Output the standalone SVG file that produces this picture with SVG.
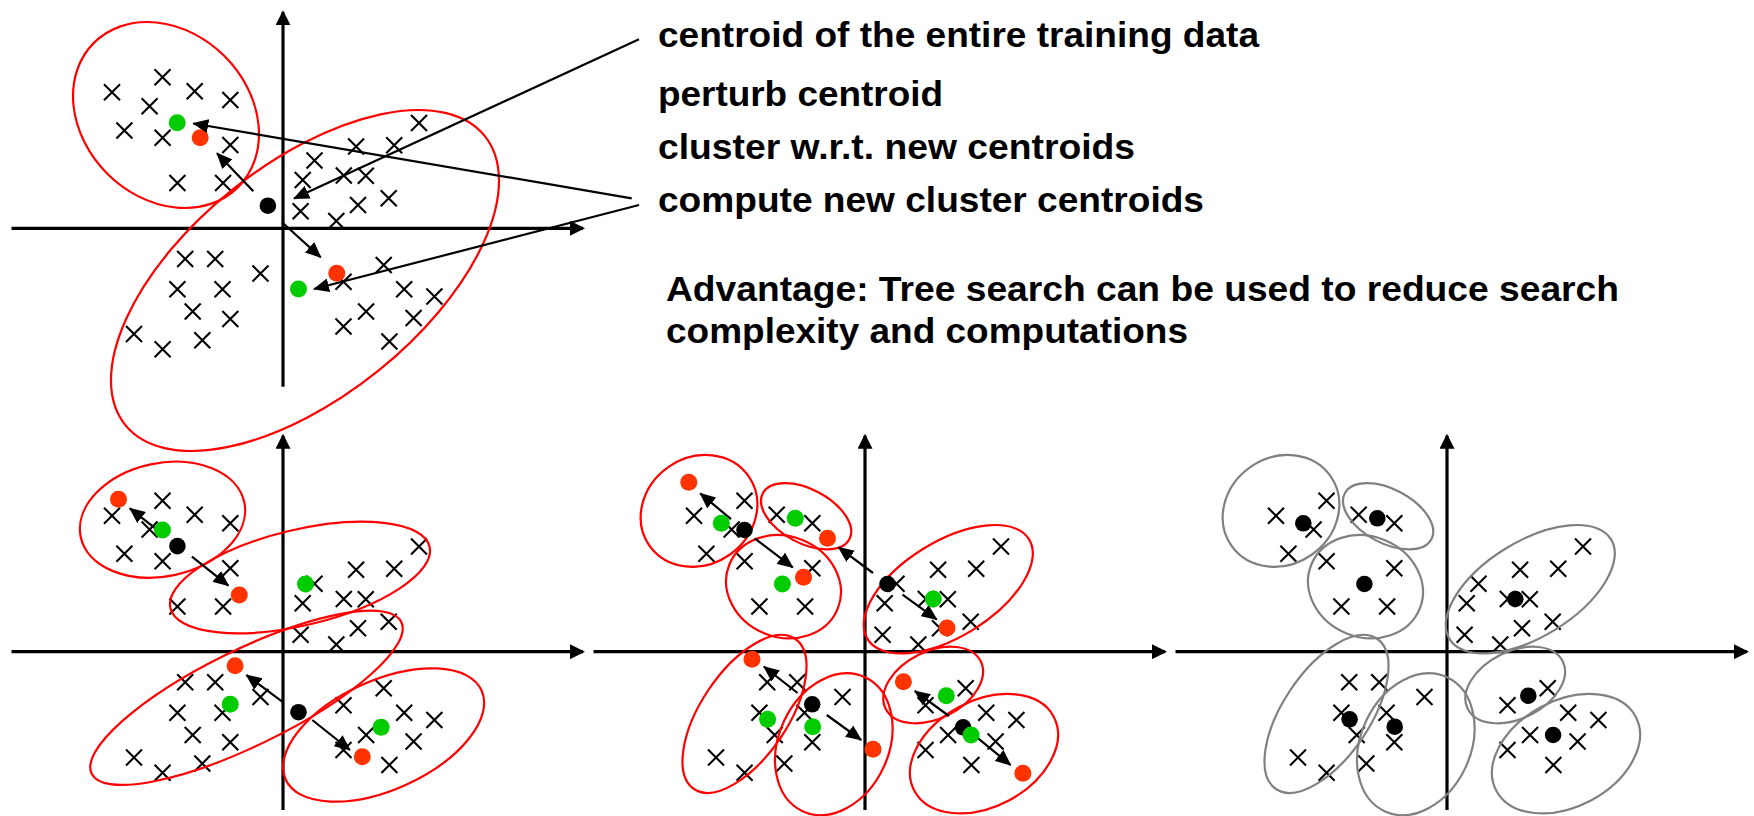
<svg xmlns="http://www.w3.org/2000/svg" xmlns:xlink="http://www.w3.org/1999/xlink" width="1754" height="816" viewBox="0 0 1754 816">
  <style>
    .axis { stroke: #000; stroke-width: 3.2; fill: none; marker-end: url(#axhead); }
    .pts use { stroke: #000; stroke-width: 2.1; fill: none; }
    .arrow { stroke: #000; stroke-width: 2.2; fill: none; marker-end: url(#head); }
    .ring { fill: none; stroke-width: 2.2; }
    .red-ring { stroke: #ff0000; }
    .gray-ring { stroke: #808080; }
    .green { fill: #00cc00; }
    .perturbed { fill: #ff3300; }
    .centroid { fill: #000; }
    .label { font-family: "Liberation Sans", Arial, sans-serif; font-weight: bold; font-size: 35px; fill: #000; }
  </style>
  <defs>
    <marker id="axhead" markerUnits="userSpaceOnUse" viewBox="0 0 15 15" markerWidth="15" markerHeight="15" refX="13" refY="7.5" orient="auto">
      <path d="M0,0L15,7.5L0,15z" fill="#000"/>
    </marker>
    <marker id="head" markerUnits="userSpaceOnUse" viewBox="0 0 16 14" markerWidth="16" markerHeight="14" refX="15" refY="7" orient="auto">
      <path d="M0,0L16,7L0,14z" fill="#000"/>
    </marker>
    <path id="x" d="M-8,-8L8,8M8,-8L-8,8"/>
    <!-- coordinate axes, origin at the crossing -->
    <g id="axes">
      <line class="axis" x1="0" y1="158.4" x2="0" y2="-216"/>
      <line class="axis" x1="-271.5" y1="0" x2="300" y2="0"/>
    </g>
    <!-- training vectors, shared by every panel -->
    <g id="data" class="pts">
      <use href="#x" x="-171" y="-136"/>
      <use href="#x" x="-120.5" y="-151"/>
      <use href="#x" x="-88.3" y="-137"/>
      <use href="#x" x="-52.7" y="-128.4"/>
      <use href="#x" x="-133.4" y="-122.1"/>
      <use href="#x" x="-158.6" y="-97.9"/>
      <use href="#x" x="-120.4" y="-90.5"/>
      <use href="#x" x="-52.7" y="-83.4"/>
      <use href="#x" x="-105.6" y="-45.2"/>
      <use href="#x" x="-59.9" y="-45.2"/>
      <use href="#x" x="136" y="-105.2"/>
      <use href="#x" x="73.1" y="-81.9"/>
      <use href="#x" x="111.2" y="-83"/>
      <use href="#x" x="31.5" y="-67.9"/>
      <use href="#x" x="19.7" y="-48.4"/>
      <use href="#x" x="60.8" y="-52.8"/>
      <use href="#x" x="82.8" y="-52.5"/>
      <use href="#x" x="105.7" y="-30"/>
      <use href="#x" x="75" y="-23.4"/>
      <use href="#x" x="17.6" y="-17"/>
      <use href="#x" x="53.3" y="-7.3"/>
      <use href="#x" x="-97.8" y="30.6"/>
      <use href="#x" x="-67.8" y="30.6"/>
      <use href="#x" x="-22.5" y="45.2"/>
      <use href="#x" x="-105.6" y="61"/>
      <use href="#x" x="-60.5" y="61"/>
      <use href="#x" x="-90.3" y="83.3"/>
      <use href="#x" x="-52.7" y="90.6"/>
      <use href="#x" x="-149" y="105.8"/>
      <use href="#x" x="-120.4" y="121"/>
      <use href="#x" x="-80.7" y="111.9"/>
      <use href="#x" x="100.7" y="36.6"/>
      <use href="#x" x="60.5" y="53.5"/>
      <use href="#x" x="121.2" y="61"/>
      <use href="#x" x="151.4" y="68.3"/>
      <use href="#x" x="83.1" y="83.3"/>
      <use href="#x" x="130.6" y="89.8"/>
      <use href="#x" x="60.5" y="98.3"/>
      <use href="#x" x="106.4" y="113.3"/>
    </g>
    <!-- eight-cell partition -->
    <g id="cells8">
      <ellipse cx="-166" cy="-140.8" rx="60.5" ry="53.5" transform="rotate(-35 -166 -140.8)"/>
      <ellipse cx="-58.9" cy="-135.4" rx="49" ry="27" transform="rotate(28 -58.9 -135.4)"/>
      <ellipse cx="-81.5" cy="-65" rx="58.5" ry="50.4" transform="rotate(22 -81.5 -65)"/>
      <ellipse cx="83.3" cy="-62.5" rx="94.9" ry="47.5" transform="rotate(-31.7 83.3 -62.5)"/>
      <ellipse cx="-120.5" cy="62.2" rx="90.5" ry="43.3" transform="rotate(-56.1 -120.5 62.2)"/>
      <ellipse cx="-31.2" cy="92.5" rx="73.9" ry="54.9" transform="rotate(-65 -31.2 92.5)"/>
      <ellipse cx="68.2" cy="33.3" rx="53.1" ry="33.6" transform="rotate(-26.5 68.2 33.3)"/>
      <ellipse cx="119" cy="102" rx="78.9" ry="53" transform="rotate(-28 119 102)"/>
    </g>
  </defs>

  <!-- 1 to 2 split -->
  <g id="panel-split2" transform="translate(283 228.3)">
    <use href="#axes"/>
    <use href="#data"/>
    <g class="ring red-ring">
      <ellipse cx="-117" cy="-113.3" rx="102" ry="83" transform="rotate(45 -117 -113.3)"/>
      <ellipse cx="22" cy="52.2" rx="230.6" ry="116.3" transform="rotate(-38.75 22 52.2)"/>
    </g>
    <g id="split2-arrows">
      <line class="arrow" x1="-29.7" y1="-37" x2="-66" y2="-75"/>
      <line class="arrow" x1="-1" y1="-6" x2="37.7" y2="29"/>
    </g>
    <g id="split2-centroids">
      <circle class="green" cx="-105.8" cy="-105.6" r="8.5"/>
      <circle class="perturbed" cx="-82.8" cy="-90.6" r="8.5"/>
      <circle class="centroid" cx="-15.1" cy="-22.6" r="8.3"/>
      <circle class="perturbed" cx="53.8" cy="45" r="8.5"/>
      <circle class="green" cx="15.5" cy="60.7" r="8.5"/>
    </g>
  </g>

  <!-- step labels and their leaders -->
  <g id="leaders">
    <line class="arrow" x1="639" y1="39.3" x2="294" y2="198.5"/>
    <line class="arrow" x1="631.7" y1="198.3" x2="193.3" y2="123.5"/>
    <line class="arrow" x1="639" y1="205" x2="314" y2="289"/>
  </g>
  <g id="labels">
    <text class="label" x="658" y="47" textLength="601" lengthAdjust="spacingAndGlyphs">centroid of the entire training data</text>
    <text class="label" x="658" y="106" textLength="285" lengthAdjust="spacingAndGlyphs">perturb centroid</text>
    <text class="label" x="658" y="159" textLength="477" lengthAdjust="spacingAndGlyphs">cluster w.r.t. new centroids</text>
    <text class="label" x="658" y="212" textLength="546" lengthAdjust="spacingAndGlyphs">compute new cluster centroids</text>
    <text class="label" x="666" y="301" textLength="953" lengthAdjust="spacingAndGlyphs">Advantage: Tree search can be used to reduce search</text>
    <text class="label" x="666" y="343" textLength="522" lengthAdjust="spacingAndGlyphs">complexity and computations</text>
  </g>

  <!-- 2 to 4 split -->
  <g id="panel-split4" transform="translate(283 651.7)">
    <use href="#axes"/>
    <use href="#data"/>
    <g class="ring red-ring">
      <ellipse cx="-120.5" cy="-132" rx="83.6" ry="56.6" transform="rotate(-12 -120.5 -132)"/>
      <ellipse cx="17" cy="-74.2" rx="133.2" ry="47.8" transform="rotate(-13.4 17 -74.2)"/>
      <ellipse cx="-36.5" cy="46.1" rx="172.4" ry="47.7" transform="rotate(-26.1 -36.5 46.1)"/>
      <ellipse cx="100.6" cy="83.3" rx="107.6" ry="54.6" transform="rotate(-24.4 100.6 83.3)"/>
    </g>
    <g id="split4-arrows">
      <line class="arrow" x1="-119.7" y1="-117" x2="-153.2" y2="-143.4"/>
      <line class="arrow" x1="-91.1" y1="-95" x2="-54.6" y2="-66"/>
      <line class="arrow" x1="-0.8" y1="50" x2="-36.6" y2="23.3"/>
      <line class="arrow" x1="29.3" y1="68.3" x2="66.9" y2="98.3"/>
    </g>
    <g id="split4-centroids">
      <circle class="perturbed" cx="-164.5" cy="-152.4" r="8.5"/>
      <circle class="green" cx="-120.5" cy="-121.7" r="8.5"/>
      <circle class="centroid" cx="-105.6" cy="-105.6" r="8.3"/>
      <circle class="perturbed" cx="-43.7" cy="-56.7" r="8.5"/>
      <circle class="green" cx="22.5" cy="-67.7" r="8.5"/>
      <circle class="perturbed" cx="-47.9" cy="14" r="8.5"/>
      <circle class="green" cx="-52.8" cy="52.6" r="8.5"/>
      <circle class="centroid" cx="15.5" cy="60.5" r="8.3"/>
      <circle class="green" cx="98.1" cy="75.6" r="8.5"/>
      <circle class="perturbed" cx="79.3" cy="105" r="8.5"/>
    </g>
  </g>

  <!-- 4 to 8 split -->
  <g id="panel-split8" transform="translate(865 651.7)">
    <use href="#axes"/>
    <use href="#data"/>
    <use href="#cells8" class="ring red-ring"/>
    <g id="split8-arrows">
      <line class="arrow" x1="-134" y1="-132.5" x2="-164.8" y2="-158.4"/>
      <line class="arrow" x1="-110.4" y1="-113.4" x2="-72.3" y2="-84.4"/>
      <line class="arrow" x1="8" y1="-78.7" x2="-26.4" y2="-104.4"/>
      <line class="arrow" x1="37.5" y1="-57.1" x2="71.7" y2="-32.4"/>
      <line class="arrow" x1="-67.4" y1="41.3" x2="-101.1" y2="15"/>
      <line class="arrow" x1="-38.2" y1="63.3" x2="-3.8" y2="88.3"/>
      <line class="arrow" x1="84" y1="64.3" x2="49.8" y2="39.3"/>
      <line class="arrow" x1="112.8" y1="86.5" x2="145.6" y2="113.3"/>
    </g>
    <g id="split8-centroids">
      <circle class="perturbed" cx="-176.2" cy="-169.4" r="8.5"/>
      <circle class="green" cx="-143.7" cy="-128.4" r="8.5"/>
      <circle class="centroid" cx="-120.5" cy="-121.7" r="8.3"/>
      <circle class="green" cx="-69.7" cy="-133.4" r="8.5"/>
      <circle class="perturbed" cx="-37.5" cy="-113.4" r="8.5"/>
      <circle class="perturbed" cx="-61.5" cy="-74.4" r="8.5"/>
      <circle class="green" cx="-82.6" cy="-67.7" r="8.5"/>
      <circle class="centroid" cx="22.5" cy="-67.7" r="8.3"/>
      <circle class="green" cx="68.3" cy="-52.7" r="8.5"/>
      <circle class="perturbed" cx="82" cy="-23.7" r="8.5"/>
      <circle class="perturbed" cx="-113" cy="7.6" r="8.5"/>
      <circle class="centroid" cx="-52.8" cy="52.6" r="8.3"/>
      <circle class="green" cx="-97.4" cy="67.6" r="8.5"/>
      <circle class="green" cx="-52.3" cy="75" r="8.5"/>
      <circle class="perturbed" cx="8" cy="97.6" r="8.5"/>
      <circle class="perturbed" cx="38.4" cy="30" r="8.5"/>
      <circle class="green" cx="81.3" cy="44" r="8.5"/>
      <circle class="centroid" cx="98.1" cy="75.6" r="8.3"/>
      <circle class="green" cx="106.1" cy="83.3" r="8.5"/>
      <circle class="perturbed" cx="157.9" cy="121.6" r="8.5"/>
    </g>
  </g>

  <!-- final codebook -->
  <g id="panel-codebook" transform="translate(1447 651.7)">
    <use href="#axes"/>
    <use href="#data"/>
    <use href="#cells8" class="ring gray-ring"/>
    <g id="codebook-centroids">
      <circle class="centroid" cx="-143.7" cy="-128.4" r="8.3"/>
      <circle class="centroid" cx="-69.7" cy="-133.4" r="8.3"/>
      <circle class="centroid" cx="-82.6" cy="-67.7" r="8.3"/>
      <circle class="centroid" cx="68.3" cy="-52.7" r="8.3"/>
      <circle class="centroid" cx="-97.4" cy="67.6" r="8.3"/>
      <circle class="centroid" cx="-52.3" cy="75" r="8.3"/>
      <circle class="centroid" cx="81.3" cy="44" r="8.3"/>
      <circle class="centroid" cx="106.1" cy="83.3" r="8.3"/>
    </g>
  </g>
</svg>
